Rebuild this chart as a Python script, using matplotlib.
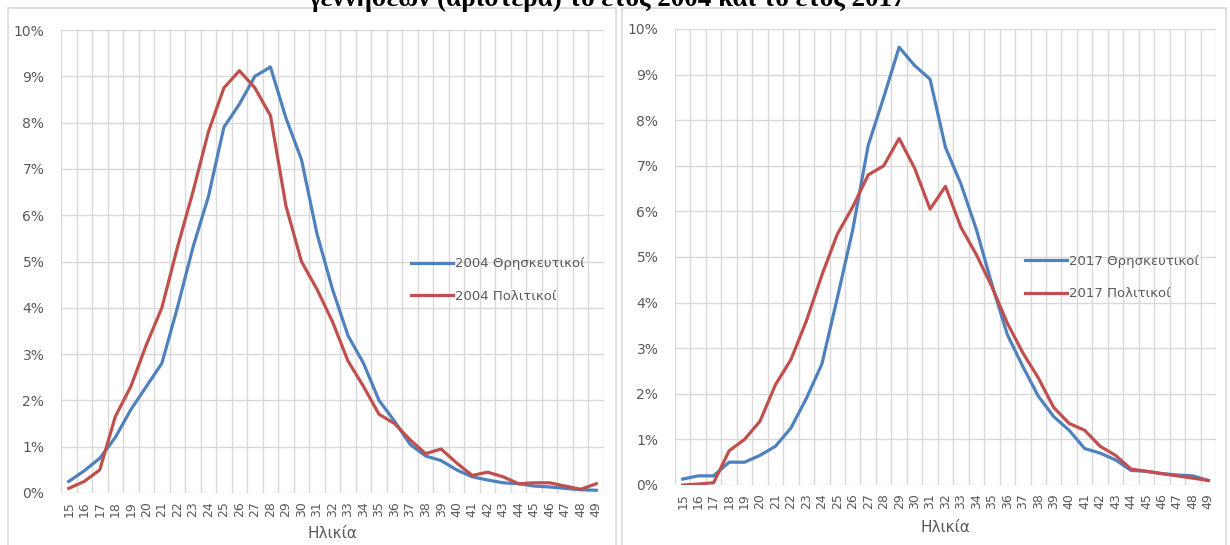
import matplotlib.pyplot as plt
from matplotlib.patches import Rectangle
from matplotlib.ticker import FuncFormatter, FixedLocator

ages = list(range(15, 50))

# 2004, % of births by age of mother
religious_2004 = [0.25, 0.48, 0.75, 1.2, 1.8, 2.3, 2.8, 4.0, 5.3, 6.4,
                  7.9, 8.4, 9.0, 9.2, 8.1, 7.2, 5.6, 4.4, 3.4, 2.8,
                  2.0, 1.55, 1.05, 0.8, 0.7, 0.5, 0.35, 0.28, 0.22, 0.2,
                  0.15, 0.13, 0.1, 0.07, 0.06]
civil_2004 = [0.1, 0.25, 0.5, 1.65, 2.3, 3.2, 4.0, 5.3, 6.5, 7.8,
              8.75, 9.12, 8.75, 8.15, 6.2, 5.0, 4.4, 3.7, 2.85, 2.3,
              1.7, 1.5, 1.15, 0.85, 0.95, 0.65, 0.38, 0.45, 0.35, 0.2,
              0.22, 0.22, 0.15, 0.08, 0.2]

# 2017
religious_2017 = [0.13, 0.2, 0.2, 0.5, 0.5, 0.65, 0.85, 1.25, 1.9, 2.65,
                  4.1, 5.6, 7.45, 8.5, 9.6, 9.2, 8.9, 7.4, 6.6, 5.6,
                  4.4, 3.3, 2.6, 1.95, 1.5, 1.2, 0.8, 0.7, 0.55, 0.32,
                  0.3, 0.25, 0.22, 0.2, 0.1]
civil_2017 = [0.0, 0.02, 0.05, 0.75, 1.0, 1.4, 2.2, 2.75, 3.6, 4.6,
              5.5, 6.1, 6.8, 7.0, 7.6, 6.95, 6.05, 6.55, 5.65, 5.05,
              4.35, 3.55, 2.9, 2.35, 1.7, 1.35, 1.2, 0.85, 0.65, 0.35,
              0.3, 0.25, 0.2, 0.15, 0.1]

labels_2004 = ["2004 Θρησκευτικοί", "2004 Πολιτικοί"]
labels_2017 = ["2017 Θρησκευτικοί", "2017 Πολιτικοί"]
title_text = "γεννήσεων (αριστερά) το έτος 2004 και το έτος 2017"
x_label = "Ηλικία"

BLUE = "#4F81BD"
RED = "#C0504D"
GRID = "#D9D9D9"
TEXT = "#595959"

W, H = 1230, 545


def px_box(left, top, right, bottom):
    return [left / W, 1 - bottom / H, (right - left) / W, (bottom - top) / H]


def draw_panel(ax, blue_vals, red_vals, labels, legend_anchor, label_pad):
    ax.plot(ages, blue_vals, color=BLUE, linewidth=2.3, label=labels[0])
    ax.plot(ages, red_vals, color=RED, linewidth=2.3, label=labels[1])

    ax.set_xlim(14.5, 49.5)
    ax.set_ylim(0, 10)
    ax.xaxis.set_major_locator(FixedLocator(ages))
    ax.xaxis.set_minor_locator(FixedLocator([a - 0.5 for a in ages] + [49.5]))
    ax.set_yticks(range(0, 11))
    ax.yaxis.set_major_formatter(FuncFormatter(lambda v, _: f"{int(v)}%"))

    ax.grid(True, which="minor", axis="x", color=GRID, linewidth=1.0)
    ax.grid(True, which="major", axis="y", color=GRID, linewidth=1.0)
    ax.set_axisbelow(True)
    for s in ax.spines.values():
        s.set_visible(False)

    ax.tick_params(axis="x", which="both", length=0, pad=6, labelsize=9,
                   labelcolor=TEXT, labelrotation=90)
    ax.tick_params(axis="y", length=0, pad=12, labelsize=10, labelcolor=TEXT)
    ax.set_xlabel(x_label, color=TEXT, fontsize=11, labelpad=label_pad)

    leg = ax.legend(loc="center left", bbox_to_anchor=legend_anchor,
                    frameon=False, fontsize=9.5, handlelength=3.2,
                    handletextpad=0.15, labelspacing=1.5, borderpad=0,
                    borderaxespad=0)
    for t in leg.get_texts():
        t.set_color(TEXT)


def main() -> None:
    plt.rcParams["font.family"] = ["DejaVu Sans"]
    fig = plt.figure(figsize=(W / 100, H / 100), dpi=100)

    # chart area borders
    fig.patches.append(Rectangle((8 / W, -0.05), (616 - 8) / W, 1 - 8 / H + 0.05,
                                 transform=fig.transFigure, fill=False,
                                 edgecolor=GRID, linewidth=1.2))
    fig.patches.append(Rectangle((622 / W, -0.05), (1226 - 622) / W, 1 - 8 / H + 0.05,
                                 transform=fig.transFigure, fill=False,
                                 edgecolor=GRID, linewidth=1.2))

    ax1 = fig.add_axes(px_box(61, 30, 604, 493))
    draw_panel(ax1, religious_2004, civil_2004, labels_2004, (0.645, 0.46), 6)

    ax2 = fig.add_axes(px_box(675, 29, 1216, 485))
    draw_panel(ax2, religious_2017, civil_2017, labels_2017, (0.647, 0.455), 8)

    # title is cut at the top in the source image
    fig.text(607 / W, 1 - 6 / H, title_text, ha="center", va="baseline",
             fontsize=19.5, fontweight="bold", family="Liberation Serif")

    fig.savefig("out.png", dpi=100)
    plt.close(fig)


if __name__ == "__main__":
    main()
